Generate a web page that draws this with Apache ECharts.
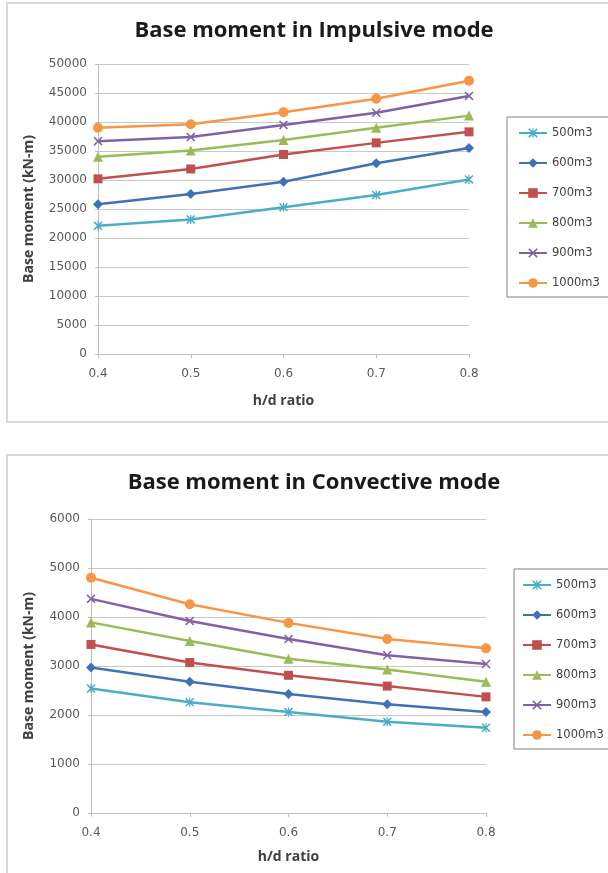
<!DOCTYPE html>
<html>
<head>
<meta charset="utf-8">
<script src="https://cdn.jsdelivr.net/npm/echarts@6/dist/echarts.min.js"></script>
<style>
html,body{margin:0;padding:0;background:#fff;}
#main{width:608px;height:873px;}
</style>
</head>
<body>
<div id="main"></div>
<script>
// ---- data ----
const categories = ['0.4', '0.5', '0.6', '0.7', '0.8'];
const seriesNames = ['500m3', '600m3', '700m3', '800m3', '900m3', '1000m3'];

// Base moment in Impulsive mode (kN-m)
const impulsive500 = [22100, 23200, 25300, 27400, 30100];
const impulsive600 = [25800, 27600, 29700, 32900, 35500];
const impulsive700 = [30200, 31900, 34400, 36400, 38300];
const impulsive800 = [34000, 35100, 36900, 39000, 41100];
const impulsive900 = [36700, 37400, 39500, 41600, 44500];
const impulsive1000 = [39000, 39600, 41700, 44000, 47100];

// Base moment in Convective mode (kN-m)
const convective500 = [2540, 2260, 2060, 1860, 1740];
const convective600 = [2970, 2680, 2430, 2220, 2060];
const convective700 = [3440, 3070, 2810, 2590, 2370];
const convective800 = [3890, 3510, 3150, 2930, 2680];
const convective900 = [4370, 3920, 3550, 3220, 3040];
const convective1000 = [4800, 4260, 3880, 3550, 3360];

const impulsiveTicks = [0, 5000, 10000, 15000, 20000, 25000, 30000, 35000, 40000, 45000, 50000];
const convectiveTicks = [0, 1000, 2000, 3000, 4000, 5000, 6000];

const impulsiveData = [impulsive500, impulsive600, impulsive700, impulsive800, impulsive900, impulsive1000];
const convectiveData = [convective500, convective600, convective700, convective800, convective900, convective1000];

// ---- styles ----
const colors = ['#4bacc6', '#3f72b5', '#c0504d', '#9bbb59', '#7f62a6', '#f79646'];
const xPath = 'path://M0,1.2L1.2,0L5,3.8L8.8,0L10,1.2L6.2,5L10,8.8L8.8,10L5,6.2L1.2,10L0,8.8L3.8,5Z';
const starPath = 'path://M0,1.2L1.2,0L5,3.8L8.8,0L10,1.2L6.2,5L10,8.8L8.8,10L5,6.2L1.2,10L0,8.8L3.8,5Z M4.35,0L5.65,0L5.65,10L4.35,10Z';
const symbols = [starPath, 'diamond', 'rect', 'triangle', xPath, 'circle'];
const symbolSizes = [9, 10, 9, 10, 9, 10];

const labelFont = { fontFamily: 'DejaVu Sans', fontSize: 12, color: '#595959' };
const nameFont = { fontFamily: 'Open Sans', fontWeight: 'bold', fontSize: 14, color: '#404040' };

function makeSeries(dataList, axisIndex) {
  return dataList.map((d, i) => ({
    name: seriesNames[i],
    type: 'line',
    xAxisIndex: axisIndex,
    yAxisIndex: axisIndex,
    data: d,
    symbol: symbols[i],
    symbolSize: symbolSizes[i],
    showSymbol: true,
    lineStyle: { width: 2.5, color: colors[i] },
    itemStyle: { color: colors[i] },
    emphasis: { disabled: true },
    animation: false,
    z: 3 + i
  }));
}

function makeX(gridIndex, gap) {
  return {
    type: 'category', gridIndex: gridIndex, data: categories, boundaryGap: false,
    name: 'h/d ratio', nameLocation: 'middle', nameGap: gap, nameTextStyle: nameFont,
    axisLine: { lineStyle: { color: '#bfbfbf', width: 1 } },
    axisTick: { show: true, alignWithLabel: true, length: 4, lineStyle: { color: '#bfbfbf' } },
    axisLabel: Object.assign({ margin: 14 }, labelFont),
    splitLine: { show: false }
  };
}
function makeY(gridIndex, max, interval, gap) {
  return {
    type: 'value', gridIndex: gridIndex, min: 0, max: max, interval: interval,
    name: 'Base moment (kN-m)', nameLocation: 'middle', nameGap: gap, nameTextStyle: nameFont,
    axisLine: { show: true, lineStyle: { color: '#bfbfbf', width: 1 } },
    axisTick: { show: true, length: 3, lineStyle: { color: '#bfbfbf' } },
    axisLabel: Object.assign({ margin: 11, formatter: (v) => String(v) }, labelFont),
    splitLine: { show: true, lineStyle: { color: '#c8c8c8', width: 1 } }
  };
}
function makeLegend(left, top, padding) {
  return {
    orient: 'vertical', left: left, top: top,
    data: seriesNames,
    itemWidth: 28, itemHeight: 12, itemGap: 16,
    padding: padding,
    borderColor: '#808080', borderWidth: 1, backgroundColor: '#fff',
    textStyle: { fontFamily: 'DejaVu Sans', fontSize: 11.5, color: '#404040', lineHeight: 14 },
    selectedMode: false
  };
}

const chart = echarts.init(document.getElementById('main'), null, { renderer: 'canvas' });
chart.setOption({
  animation: false,
  backgroundColor: '#fff',
  graphic: [
    { type: 'rect', shape: { x: 7, y: 3, width: 620, height: 419 }, style: { fill: '#fff', stroke: '#d9d9d9', lineWidth: 2 }, z: -10, silent: true },
    { type: 'rect', shape: { x: 7, y: 455, width: 620, height: 440 }, style: { fill: '#fff', stroke: '#d9d9d9', lineWidth: 2 }, z: -10, silent: true }
  ],
  title: [
    { text: 'Base moment in Impulsive mode', left: 314, top: 20, textAlign: 'center', padding: 0,
      textStyle: { fontFamily: 'Open Sans', fontWeight: 'bold', fontSize: 22, color: '#1a1a1a' } },
    { text: 'Base moment in Convective mode', left: 314, top: 472, textAlign: 'center', padding: 0,
      textStyle: { fontFamily: 'Open Sans', fontWeight: 'bold', fontSize: 22, color: '#1a1a1a' } }
  ],
  legend: [
    makeLegend(507, 117, [9, 40, 7, 11]),
    makeLegend(514, 569, [9, 40, 7, 8])
  ],
  grid: [
    { left: 98, top: 64, width: 371, height: 290, containLabel: false },
    { left: 91, top: 519, width: 395, height: 294, containLabel: false }
  ],
  xAxis: [makeX(0, 40), makeX(1, 37)],
  yAxis: [
    makeY(0, impulsiveTicks[impulsiveTicks.length - 1], impulsiveTicks[1] - impulsiveTicks[0], 62),
    makeY(1, convectiveTicks[convectiveTicks.length - 1], convectiveTicks[1] - convectiveTicks[0], 55)
  ],
  series: makeSeries(impulsiveData, 0).concat(makeSeries(convectiveData, 1))
});
</script>
</body>
</html>
